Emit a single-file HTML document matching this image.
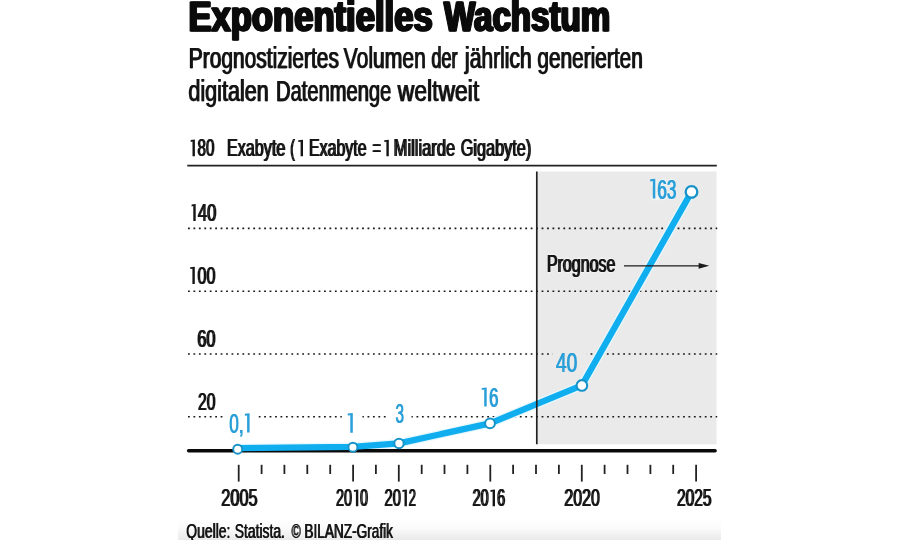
<!DOCTYPE html>
<html lang="de">
<head>
<meta charset="utf-8">
<title>Exponentielles Wachstum</title>
<style>
html,body{margin:0;padding:0;background:#fff;}
body{width:900px;height:540px;overflow:hidden;font-family:"Liberation Sans",sans-serif;}
svg{display:block;}
text{font-family:"Liberation Sans",sans-serif;}
</style>
</head>
<body>
<svg width="900" height="540" viewBox="0 0 900 540">
<defs>
<linearGradient id="bg" x1="0" y1="0" x2="0" y2="1">
<stop offset="0" stop-color="#ffffff"/>
<stop offset="0.45" stop-color="#fafafa"/>
<stop offset="1" stop-color="#e9e9e9"/>
</linearGradient>
<mask id="m" maskUnits="userSpaceOnUse" x="0" y="0" width="900" height="540"><rect x="0" y="0" width="900" height="540" fill="#ffffff"/></mask>
</defs>
<rect x="0" y="0" width="900" height="540" fill="#ffffff"/>
<rect x="178" y="519" width="543" height="21" fill="url(#bg)"/>
<g mask="url(#m)">

<!-- Title -->
<text id="t1" x="187.65" y="31.2" font-size="43" font-weight="bold" fill="#0b0b0b" stroke="#0b0b0b" stroke-width="1.2" stroke-linejoin="round" textLength="244.3" lengthAdjust="spacingAndGlyphs">Exponentielles</text>
<use href="#t1" x="0.75"/>
<use href="#t1" x="1.50"/>
<text id="t2" x="443.25" y="31.2" font-size="43" font-weight="bold" fill="#0b0b0b" stroke="#0b0b0b" stroke-width="1.2" stroke-linejoin="round" textLength="166.2" lengthAdjust="spacingAndGlyphs">Wachstum</text>
<use href="#t2" x="0.75"/>
<use href="#t2" x="1.50"/>
<!-- Subtitle -->
<text id="t3" x="188.32" y="68.2" font-size="29.7" fill="#151515" stroke="#151515" stroke-width="0.25" stroke-linejoin="round" textLength="150.15" lengthAdjust="spacingAndGlyphs">Prognostiziertes</text>
<use href="#t3" x="0.90"/>
<text id="t4" x="343.23" y="68.2" font-size="29.7" fill="#151515" stroke="#151515" stroke-width="0.25" stroke-linejoin="round" textLength="82.24" lengthAdjust="spacingAndGlyphs">Volumen</text>
<use href="#t4" x="0.90"/>
<text id="t5" x="431.12" y="68.2" font-size="29.7" fill="#151515" stroke="#151515" stroke-width="0.25" stroke-linejoin="round" textLength="25.96" lengthAdjust="spacingAndGlyphs">der</text>
<use href="#t5" x="0.90"/>
<text id="t6" x="464.55" y="68.2" font-size="29.7" fill="#151515" stroke="#151515" stroke-width="0.25" stroke-linejoin="round" textLength="66.72" lengthAdjust="spacingAndGlyphs">jährlich</text>
<use href="#t6" x="0.90"/>
<text id="t7" x="536.92" y="68.2" font-size="29.7" fill="#151515" stroke="#151515" stroke-width="0.25" stroke-linejoin="round" textLength="105.45" lengthAdjust="spacingAndGlyphs">generierten</text>
<use href="#t7" x="0.90"/>
<text id="t8" x="187.93" y="101" font-size="29.7" fill="#151515" stroke="#151515" stroke-width="0.25" stroke-linejoin="round" textLength="80.35" lengthAdjust="spacingAndGlyphs">digitalen</text>
<use href="#t8" x="0.90"/>
<text id="t9" x="275.62" y="101" font-size="29.7" fill="#151515" stroke="#151515" stroke-width="0.25" stroke-linejoin="round" textLength="115.25" lengthAdjust="spacingAndGlyphs">Datenmenge</text>
<use href="#t9" x="0.90"/>
<text id="t10" x="397.37" y="101" font-size="29.7" fill="#151515" stroke="#151515" stroke-width="0.25" stroke-linejoin="round" textLength="81.4" lengthAdjust="spacingAndGlyphs">weltweit</text>
<use href="#t10" x="0.90"/>
<!-- Axis header -->
<text id="t11" x="197.00" y="156.3" font-size="23.8" fill="#151515" stroke="#151515" stroke-width="0.2" stroke-linejoin="round" textLength="16.9" lengthAdjust="spacingAndGlyphs">80</text>
<use href="#t11" x="1.10"/>
<text id="t12" x="226.40" y="156.3" font-size="23.8" fill="#151515" stroke="#151515" stroke-width="0.2" stroke-linejoin="round" textLength="58.4" lengthAdjust="spacingAndGlyphs">Exabyte</text>
<use href="#t12" x="1.10"/>
<text id="t13" x="289.70" y="156.3" font-size="23.8" fill="#151515" stroke="#151515" stroke-width="0.2" stroke-linejoin="round" textLength="4.6" lengthAdjust="spacingAndGlyphs">(</text>
<use href="#t13" x="1.10"/>
<text id="t14" x="308.50" y="156.3" font-size="23.8" fill="#151515" stroke="#151515" stroke-width="0.2" stroke-linejoin="round" textLength="57.5" lengthAdjust="spacingAndGlyphs">Exabyte</text>
<use href="#t14" x="1.10"/>
<text id="t15" x="372.10" y="156.3" font-size="23.8" fill="#151515" stroke="#151515" stroke-width="0.2" stroke-linejoin="round" textLength="8.3" lengthAdjust="spacingAndGlyphs">=</text>
<use href="#t15" x="1.10"/>
<text id="t16" x="393.10" y="156.3" font-size="23.8" fill="#151515" stroke="#151515" stroke-width="0.2" stroke-linejoin="round" textLength="61.6" lengthAdjust="spacingAndGlyphs">Milliarde</text>
<use href="#t16" x="1.10"/>
<text id="t17" x="460.20" y="156.3" font-size="23.8" fill="#151515" stroke="#151515" stroke-width="0.2" stroke-linejoin="round" textLength="70.51" lengthAdjust="spacingAndGlyphs">Gigabyte)</text>
<use href="#t17" x="1.10"/>
<path d="M190.70 140.10 L194.90 139.60 L194.90 156.30 L192.50 156.30 L192.50 141.60 L190.70 142.00 Z" fill="#151515"/>
<path d="M298.30 140.20 L303.00 139.70 L303.00 156.30 L300.60 156.30 L300.60 141.70 L298.30 142.10 Z" fill="#151515"/>
<path d="M384.30 140.20 L388.80 139.70 L388.80 156.30 L386.40 156.30 L386.40 141.70 L384.30 142.10 Z" fill="#151515"/>
<!-- Forecast area -->
<rect x="537.3" y="171.5" width="179.2" height="272.8" fill="#eaeaea"/>
<!-- top rule -->
<line x1="187.3" y1="165.6" x2="716.8" y2="165.6" stroke="#222" stroke-width="1.8"/>
<!-- dotted grid -->
<g stroke="#1a1a1a" stroke-width="1.6" stroke-dasharray="1.8 3.64" fill="none">
  <line x1="188" y1="228.4" x2="717.2" y2="228.4"/>
  <line x1="188" y1="291.2" x2="717.2" y2="291.2"/>
  <line x1="188" y1="354" x2="717.2" y2="354"/>
  <line x1="188" y1="416.8" x2="717.2" y2="416.8"/>
</g>
<!-- label clearances -->
<rect x="223.4" y="414.8" width="34.8" height="4" fill="#ffffff"/>
<rect x="341.8" y="414.8" width="20.6" height="4" fill="#ffffff"/>
<rect x="387.3" y="414.8" width="24.2" height="4" fill="#ffffff"/>
<rect x="552.3" y="352" width="34.6" height="4" fill="#eaeaea"/>

<!-- y labels -->
<text id="t18" x="197.40" y="221" font-size="24.2" fill="#151515" stroke="#151515" stroke-width="0.2" stroke-linejoin="round" textLength="18.31" lengthAdjust="spacingAndGlyphs">40</text>
<use href="#t18" x="1.10"/>
<text id="t19" x="196.90" y="284" font-size="24.2" fill="#151515" stroke="#151515" stroke-width="0.2" stroke-linejoin="round" textLength="18.01" lengthAdjust="spacingAndGlyphs">00</text>
<use href="#t19" x="1.10"/>
<text id="t20" x="196.80" y="346.8" font-size="24.2" fill="#151515" stroke="#151515" stroke-width="0.2" stroke-linejoin="round" textLength="18.11" lengthAdjust="spacingAndGlyphs">60</text>
<use href="#t20" x="1.10"/>
<text id="t21" x="197.40" y="409.6" font-size="24.2" fill="#151515" stroke="#151515" stroke-width="0.2" stroke-linejoin="round" textLength="17.5" lengthAdjust="spacingAndGlyphs">20</text>
<use href="#t21" x="1.10"/>
<path d="M191.60 204.50 L195.70 204.00 L195.70 221.00 L193.30 221.00 L193.30 206.00 L191.60 206.40 Z" fill="#151515"/>
<path d="M190.20 267.20 L194.80 266.70 L194.80 284.00 L192.40 284.00 L192.40 268.70 L190.20 269.10 Z" fill="#151515"/>
<!-- data line halo -->
<polyline points="237.7,448.1 352.9,446.8 399,443.4 490,423.3 581.9,385.4 691.5,191.9" fill="none" stroke="#e8f8fe" stroke-width="8.9" stroke-linejoin="round" stroke-linecap="round"/>
<!-- baseline -->
<line x1="188.6" y1="450.85" x2="715.1" y2="450.85" stroke="#0a0a0a" stroke-width="3.5" stroke-linecap="round"/>
<!-- data line -->
<polyline points="237.7,448.1 352.9,446.8 399,443.4 490,423.3 581.9,385.4 691.5,191.9" fill="none" stroke="#11aeef" stroke-width="6.3" stroke-linejoin="round" stroke-linecap="round"/>
<!-- forecast divider -->
<line x1="536.8" y1="171.5" x2="536.8" y2="444.3" stroke="#222" stroke-width="1.7"/>

<!-- Prognose -->
<text x="547.60" y="272.2" font-size="24.3" fill="#f4f4f4" stroke="#f4f4f4" stroke-width="2.6" stroke-linejoin="round" textLength="67.1" lengthAdjust="spacingAndGlyphs">Prognose</text>
<text id="t23" x="546.40" y="272.2" font-size="24.3" fill="#151515" stroke="#151515" stroke-width="0.2" stroke-linejoin="round" textLength="68.4" lengthAdjust="spacingAndGlyphs">Prognose</text>
<use href="#t23" x="1.10"/>
<line x1="624" y1="265.8" x2="701" y2="265.8" stroke="#1a1a1a" stroke-width="1.3"/>
<path d="M698.6 262.9 L709.3 265.8 L698.6 268.7 Z" fill="#1a1a1a"/>
<!-- markers -->
<g fill="#ffffff" stroke="#1893c9" stroke-width="2">
  <circle cx="237.7" cy="449.2" r="4.5" stroke-width="1.9"/>
  <circle cx="352.9" cy="447.2" r="4.5" stroke-width="1.9"/>
  <circle cx="399" cy="443.5" r="4.7" stroke-width="2"/>
  <circle cx="490" cy="423.3" r="4.9" stroke-width="2"/>
  <circle cx="581.9" cy="385.4" r="5.3" stroke-width="2.1"/>
  <circle cx="691.5" cy="191.9" r="5.8" stroke-width="2.3"/>
</g>
<!-- value labels -->
<text id="t24" x="229.00" y="432.6" font-size="27.2" fill="#2a9fd8" stroke="#2a9fd8" stroke-width="0.2" stroke-linejoin="round" textLength="14.4" lengthAdjust="spacingAndGlyphs">0,</text>
<use href="#t24" x="0.60"/>
<path d="M244.80 413.70 L249.60 413.20 L249.60 432.50 L247.10 432.50 L247.10 415.40 L244.80 415.80 Z" fill="#2a9fd8"/>
<path d="M347.70 413.50 L352.80 413.00 L352.80 432.70 L350.30 432.70 L350.30 415.20 L347.70 415.60 Z" fill="#2a9fd8"/>
<text id="t25" x="395.20" y="423.0" font-size="27.2" fill="#2a9fd8" stroke="#2a9fd8" stroke-width="0.2" stroke-linejoin="round" textLength="8.5" lengthAdjust="spacingAndGlyphs">3</text>
<use href="#t25" x="0.60"/>
<path d="M481.80 387.90 L486.70 387.40 L486.70 406.60 L484.20 406.60 L484.20 389.60 L481.80 390.00 Z" fill="#2a9fd8"/>
<text id="t26" x="488.80" y="406.8" font-size="27.2" fill="#2a9fd8" stroke="#2a9fd8" stroke-width="0.2" stroke-linejoin="round" textLength="9.3" lengthAdjust="spacingAndGlyphs">6</text>
<use href="#t26" x="0.60"/>
<text id="t27" x="555.70" y="371.7" font-size="27.2" fill="#2a9fd8" stroke="#2a9fd8" stroke-width="0.2" stroke-linejoin="round" textLength="21.31" lengthAdjust="spacingAndGlyphs">40</text>
<use href="#t27" x="0.60"/>
<text x="651.10" y="198.5" font-size="27.2" fill="#f2f6f8" stroke="#f2f6f8" stroke-width="2.4" stroke-linejoin="round" textLength="24.51" lengthAdjust="spacingAndGlyphs">163</text>
<path d="M650.20 179.30 L655.30 178.80 L655.30 198.40 L652.80 198.40 L652.80 181.00 L650.20 181.40 Z" fill="#2a9fd8"/>
<text id="t29" x="657.10" y="198.5" font-size="27.2" fill="#2a9fd8" stroke="#2a9fd8" stroke-width="0.2" stroke-linejoin="round" textLength="19.01" lengthAdjust="spacingAndGlyphs">63</text>
<use href="#t29" x="0.60"/>
<!-- x ticks -->
<g stroke="#222" stroke-width="1.8">
  <line x1="238.7" y1="464.8" x2="238.7" y2="481.6"/>
  <line x1="261.6" y1="464.8" x2="261.6" y2="474"/>
  <line x1="284.4" y1="464.8" x2="284.4" y2="474"/>
  <line x1="307.3" y1="464.8" x2="307.3" y2="474"/>
  <line x1="330.2" y1="464.8" x2="330.2" y2="474"/>
  <line x1="353.1" y1="464.8" x2="353.1" y2="481.6"/>
  <line x1="375.9" y1="464.8" x2="375.9" y2="474"/>
  <line x1="398.8" y1="464.8" x2="398.8" y2="481.6"/>
  <line x1="421.7" y1="464.8" x2="421.7" y2="474"/>
  <line x1="444.5" y1="464.8" x2="444.5" y2="474"/>
  <line x1="467.4" y1="464.8" x2="467.4" y2="474"/>
  <line x1="490.3" y1="464.8" x2="490.3" y2="481.6"/>
  <line x1="513.1" y1="464.8" x2="513.1" y2="474"/>
  <line x1="536.0" y1="464.8" x2="536.0" y2="474"/>
  <line x1="558.9" y1="464.8" x2="558.9" y2="474"/>
  <line x1="581.8" y1="464.8" x2="581.8" y2="481.6"/>
  <line x1="604.6" y1="464.8" x2="604.6" y2="474"/>
  <line x1="627.5" y1="464.8" x2="627.5" y2="474"/>
  <line x1="650.4" y1="464.8" x2="650.4" y2="474"/>
  <line x1="673.2" y1="464.8" x2="673.2" y2="474"/>
  <line x1="696.1" y1="464.8" x2="696.1" y2="481.6"/>
</g>
<!-- x labels -->
<text id="t30" x="220.70" y="506.3" font-size="24.2" fill="#151515" stroke="#151515" stroke-width="0.2" stroke-linejoin="round" textLength="36.39" lengthAdjust="spacingAndGlyphs">2005</text>
<use href="#t30" x="1.10"/>
<text id="t31" x="335.40" y="506.3" font-size="24.2" fill="#151515" stroke="#151515" stroke-width="0.2" stroke-linejoin="round" textLength="16.1" lengthAdjust="spacingAndGlyphs">20</text>
<use href="#t31" x="1.10"/>
<text id="t32" x="359.60" y="506.3" font-size="24.2" fill="#151515" stroke="#151515" stroke-width="0.2" stroke-linejoin="round" textLength="7.8" lengthAdjust="spacingAndGlyphs">0</text>
<use href="#t32" x="1.10"/>
<text id="t33" x="384.00" y="506.3" font-size="24.2" fill="#151515" stroke="#151515" stroke-width="0.2" stroke-linejoin="round" textLength="16.4" lengthAdjust="spacingAndGlyphs">20</text>
<use href="#t33" x="1.10"/>
<text id="t34" x="408.20" y="506.3" font-size="24.2" fill="#151515" stroke="#151515" stroke-width="0.2" stroke-linejoin="round" textLength="7.2" lengthAdjust="spacingAndGlyphs">2</text>
<use href="#t34" x="1.10"/>
<text id="t35" x="472.10" y="506.3" font-size="24.2" fill="#151515" stroke="#151515" stroke-width="0.2" stroke-linejoin="round" textLength="16.0" lengthAdjust="spacingAndGlyphs">20</text>
<use href="#t35" x="1.10"/>
<text id="t36" x="496.60" y="506.3" font-size="24.2" fill="#151515" stroke="#151515" stroke-width="0.2" stroke-linejoin="round" textLength="8.0" lengthAdjust="spacingAndGlyphs">6</text>
<use href="#t36" x="1.10"/>
<text id="t37" x="563.80" y="506.3" font-size="24.2" fill="#151515" stroke="#151515" stroke-width="0.2" stroke-linejoin="round" textLength="35.49" lengthAdjust="spacingAndGlyphs">2020</text>
<use href="#t37" x="1.10"/>
<text id="t38" x="676.50" y="506.3" font-size="24.2" fill="#151515" stroke="#151515" stroke-width="0.2" stroke-linejoin="round" textLength="34.49" lengthAdjust="spacingAndGlyphs">2025</text>
<use href="#t38" x="1.10"/>
<path d="M353.90 490.00 L358.30 489.50 L358.30 506.30 L355.90 506.30 L355.90 491.50 L353.90 491.90 Z" fill="#151515"/>
<path d="M402.40 490.00 L406.90 489.50 L406.90 506.30 L404.50 506.30 L404.50 491.50 L402.40 491.90 Z" fill="#151515"/>
<path d="M490.50 490.00 L495.00 489.50 L495.00 506.30 L492.60 506.30 L492.60 491.50 L490.50 491.90 Z" fill="#151515"/>
<!-- source -->
<text id="t39" x="185.98" y="537.8" font-size="20.6" fill="#151515" stroke="#151515" stroke-width="0.15" stroke-linejoin="round" textLength="44.12" lengthAdjust="spacingAndGlyphs">Quelle:</text>
<use href="#t39" x="0.64"/>
<text id="t40" x="234.48" y="537.8" font-size="20.6" fill="#151515" stroke="#151515" stroke-width="0.15" stroke-linejoin="round" textLength="50.11" lengthAdjust="spacingAndGlyphs">Statista.</text>
<use href="#t40" x="0.64"/>
<text id="t41" x="291.27" y="537.8" font-size="20.6" fill="#151515" stroke="#151515" stroke-width="0.15" stroke-linejoin="round" textLength="9.11" lengthAdjust="spacingAndGlyphs">©</text>
<use href="#t41" x="0.64"/>
<text id="t42" x="304.07" y="537.8" font-size="20.6" fill="#151515" stroke="#151515" stroke-width="0.15" stroke-linejoin="round" textLength="88.58" lengthAdjust="spacingAndGlyphs">BILANZ-Grafik</text>
<use href="#t42" x="0.64"/>
</g>
</svg>
</body>
</html>
